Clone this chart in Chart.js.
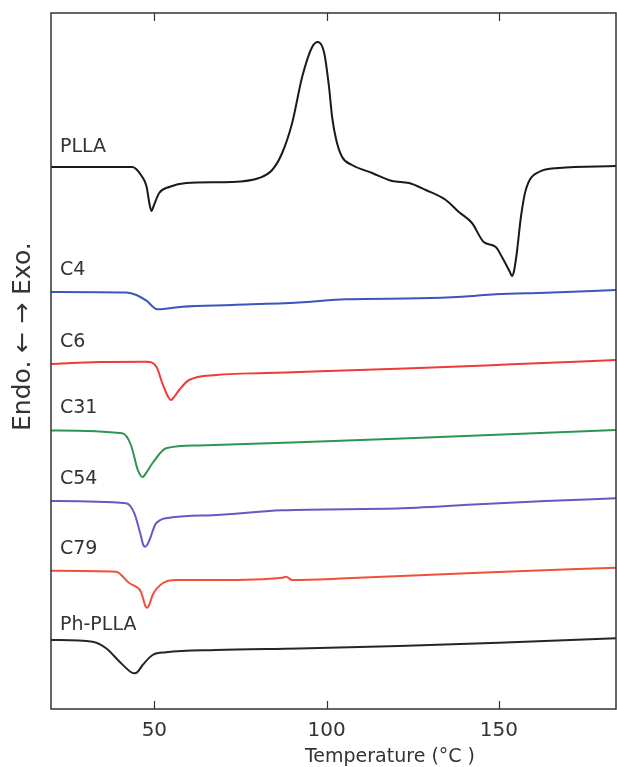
<!DOCTYPE html>
<html>
<head>
<meta charset="utf-8">
<script src="https://cdn.jsdelivr.net/npm/chart.js@4.4.1/dist/chart.umd.min.js"></script>
<style>
  html, body { margin: 0; padding: 0; background: #fff; }
  canvas { display: block; }
</style>
</head>
<body>
<canvas id="dscChart" width="617" height="767"></canvas>
<script>
// temperatures (°C) and heat flow (arbitrary units, curves offset vertically)
const pllaT = [20, 43.6, 46.5, 47.7, 48.7, 49.2, 49.8, 51.4, 54.3, 59.3, 72.6, 80.4, 84.2, 87.1, 90, 92.9, 95.8, 97.5, 99.3, 100.7, 101.6, 102.8, 104.5, 107.4, 113.2, 119, 123.9, 128.8, 134.6, 138.4, 142.2, 145.6, 149.1, 150.9, 153.2, 153.8, 154.4, 155.2, 156.4, 157.8, 161.6, 167.4, 184];
const pllaV = [542, 542, 532, 523, 503, 498, 503, 516, 522, 526, 527, 531, 539, 556, 586, 632, 662, 667, 656, 622, 592, 569, 552, 544, 536, 528, 526, 519, 509, 497, 486, 467, 462, 452, 437, 433, 438, 456, 492, 519, 537, 541, 543];

const c4T = [20, 41.9, 44.8, 47.7, 50.9, 58.1, 72.6, 92, 105.7, 126.8, 139.3, 149.1, 163.6, 184];
const c4V = [417, 416.5, 414, 408.3, 399.7, 402.3, 404, 406.5, 409.7, 410.7, 412.3, 414.7, 416.3, 419];

const c6T = [20, 34.1, 47.7, 50.6, 52.3, 54.2, 54.8, 55.5, 57.2, 60.1, 68, 82.5, 92, 124.8, 153.8, 184];
const c6V = [345, 347, 347.3, 342.3, 326, 311, 309, 311, 319, 329, 334, 336, 337, 340.7, 344.7, 349];

const c31T = [20, 40.7, 43.2, 45.2, 46.1, 46.6, 47.2, 49.5, 53.4, 63, 92, 134.6, 184];
const c31V = [278.5, 275.7, 264, 239, 233, 232, 234, 246, 260.7, 263.5, 266.7, 272.3, 279];

const c54T = [20, 41.8, 44.2, 45.9, 46.8, 47.3, 47.9, 48.6, 50.5, 55.3, 67.9, 87.1, 121.9, 144.2, 163.6, 184];
const c54V = [208, 205.7, 195.7, 175.7, 164, 162.3, 164, 169, 185.7, 191.7, 194, 198.7, 200.7, 204.7, 208, 210.7];

const c79T = [20, 38.9, 42.8, 44.7, 46.1, 47.4, 47.9, 48.5, 49.5, 52.4, 56.3, 61.1, 67.9, 87.2, 88.2, 90, 105.7, 144.2, 184];
const c79V = [138.3, 137.3, 125.7, 122.3, 117.3, 103, 101.3, 104, 114, 125.7, 129, 129, 129, 131.3, 132.3, 129, 130.7, 136.3, 141.3];

const phT = [20, 32.1, 36, 39.9, 43.4, 44.2, 45.1, 46.6, 49.5, 53.4, 67.9, 92, 121, 150, 184];
const phV = [69, 67.3, 60.7, 47.3, 36.5, 35.7, 37, 44, 54, 56.7, 59, 60.5, 63, 66.3, 70.7];

const xTicks = [50, 100, 150];

function pts(t, v) {
    return t.map((x, i) => ({ x: x, y: v[i] }));
}

function series(label, t, v, color, gap) {
    return {
        label: label,
        data: pts(t, v),
        borderColor: color,
        borderWidth: 2,
        pointRadius: 0,
        cubicInterpolationMode: 'monotone',
        fill: false,
        labelGap: gap
    };
}

const datasets = [
    series('PLLA', pllaT, pllaV, '#1a1a1a', 20),
    series('C4', c4T, c4V, '#3b55b8', 22),
    series('C6', c6T, c6V, '#f03a3a', 22),
    series('C31', c31T, c31V, '#2b9650', 22),
    series('C54', c54T, c54V, '#6e55c4', 22),
    series('C79', c79T, c79V, '#f0503a', 22),
    series('Ph-PLLA', phT, phV, '#262626', 15)
];

const FONT = '"DejaVu Sans", "Open Sans", sans-serif';

// frame, inner ticks, curve names and axis titles
const decor = {
    id: 'decor',
    afterDraw(chart) {
        const ctx = chart.ctx;
        const a = chart.chartArea;
        const x = chart.scales.x;
        const y = chart.scales.y;
        ctx.save();
        ctx.strokeStyle = '#333';
        ctx.lineWidth = 1.5;
        ctx.strokeRect(a.left, a.top, a.right - a.left, a.bottom - a.top);
        ctx.beginPath();
        xTicks.forEach(t => {
            const px = Math.round(x.getPixelForValue(t)) + 0.5;
            ctx.moveTo(px, a.bottom);
            ctx.lineTo(px, a.bottom - 8);
            ctx.moveTo(px, a.top);
            ctx.lineTo(px, a.top + 8);
        });
        ctx.lineWidth = 1.2;
        ctx.stroke();

        ctx.fillStyle = '#333';
        ctx.font = '19px ' + FONT;
        ctx.textBaseline = 'middle';
        ctx.textAlign = 'left';
        chart.data.datasets.forEach(ds => {
            ctx.fillText(ds.label, a.left + 9, y.getPixelForValue(ds.data[0].y) - ds.labelGap);
        });

        ctx.textAlign = 'center';
        ctx.fillText('Temperature (°C )', a.left + (a.right - a.left) * 0.6, 757);

        ctx.font = '25px ' + FONT;
        ctx.translate(23, a.top + (a.bottom - a.top) * 0.465);
        ctx.rotate(-Math.PI / 2);
        ctx.fillText('Endo. ← → Exo.', 0, 0);
        ctx.restore();
    }
};

new Chart(document.getElementById('dscChart'), {
    type: 'line',
    data: { datasets: datasets },
    options: {
        responsive: false,
        animation: false,
        layout: { padding: { left: 51, right: 1, top: 13, bottom: 0 } },
        plugins: {
            legend: { display: false },
            tooltip: { enabled: false }
        },
        scales: {
            x: {
                type: 'linear',
                min: 20,
                max: 184,
                grid: { display: false, drawTicks: false },
                border: { display: false },
                afterBuildTicks: s => { s.ticks = xTicks.map(v => ({ value: v })); },
                afterFit: s => { s.height = 58; },
                ticks: {
                    padding: 10,
                    color: '#333',
                    font: { family: FONT, size: 20 }
                }
            },
            y: {
                display: false,
                min: 0,
                max: 696
            }
        }
    },
    plugins: [decor]
});
</script>
</body>
</html>
